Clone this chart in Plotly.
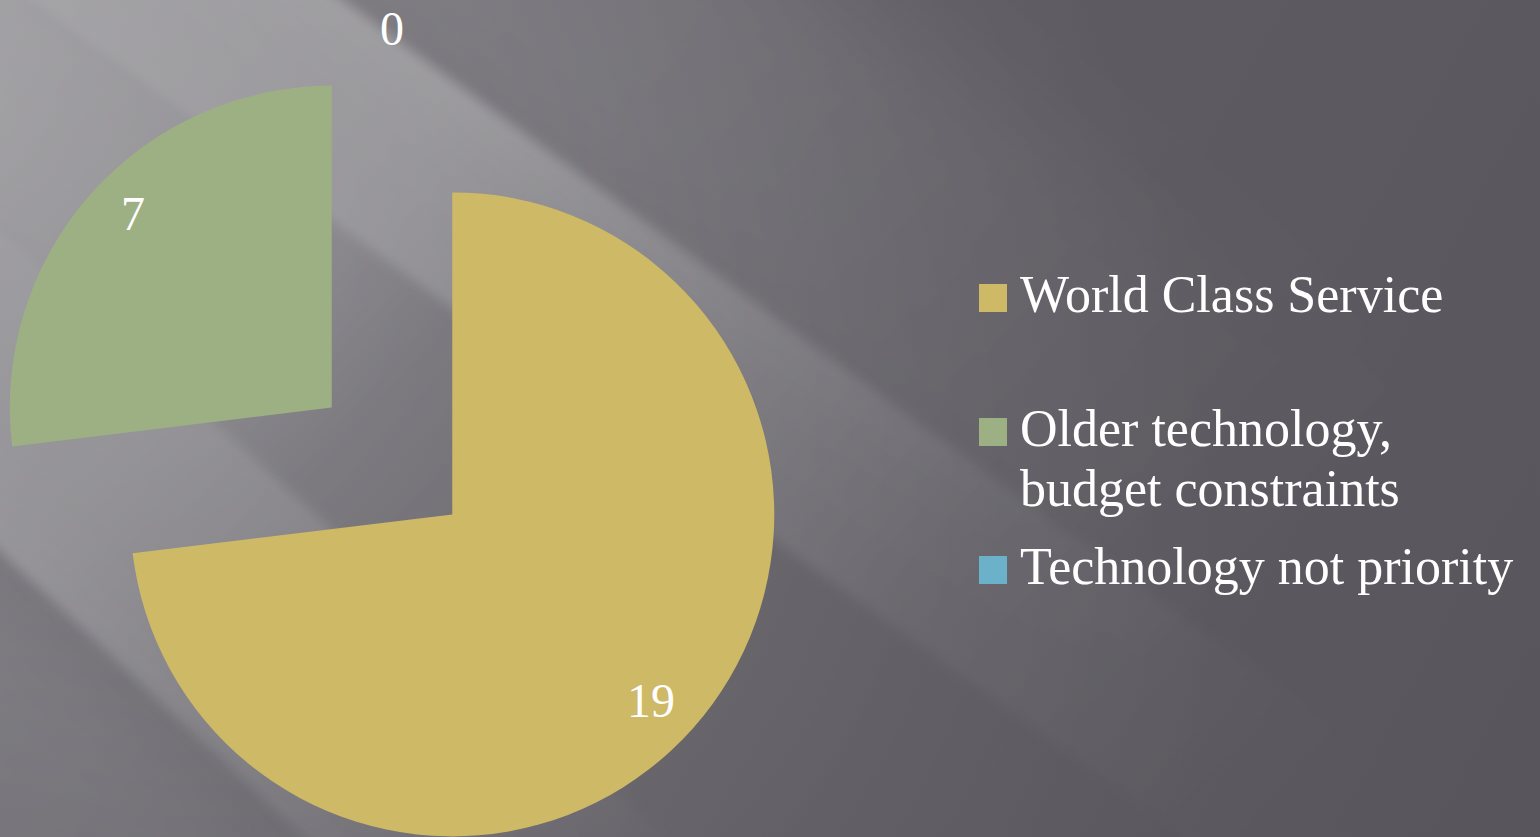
import base64
import math

import plotly.graph_objects as go

# ---- data -------------------------------------------------------------
categories = [
    "World Class Service",
    "Older technology, budget constraints",
    "Technology not priority",
]
values = [19, 7, 0]
colors = ["#CEB966", "#9CB084", "#6BB1C9"]

# ---- page geometry (pixels) -------------------------------------------
VIEW_W, VIEW_H = 1540, 837
SHIFT = 11                      # figure is drawn 11px wider and slid left
FIG_W, FIG_H = VIEW_W + SHIFT, 870

PIE_CX, PIE_CY, PIE_R, PULL = 392, 461, 322, 0.25
INSIDE_K, LABEL_TILT, OUTSIDE_K = 0.856, 2.2, 1.343
LABEL_DY = -4

FONT = "Liberation Serif, Times New Roman, serif"
LEGEND_SQ_X, LEGEND_SQ, LEGEND_TEXT_X = 979, 28, 1018
LEGEND_BASELINES = [312, 446, 584]
LEGEND_LINE_GAP = 60
LEGEND_FONT, LABEL_FONT = 52, 48


def px(x):
    return (x + SHIFT) / FIG_W


def py(y):
    return 1 - y / FIG_H


def fade(name, x2, stops):
    """Horizontal white gradient whose opacity follows the given stops."""
    s = "".join(
        f'<stop offset="{o}" stop-color="#ffffff" stop-opacity="{a}"/>'
        for o, a in stops)
    return (f'<linearGradient id="{name}" gradientUnits="userSpaceOnUse" '
            f'x1="0" y1="0" x2="{x2}" y2="0">{s}</linearGradient>')


# ---- background: dark slate with soft light rays from the top-left ----
def background_svg():
    return f'''<svg xmlns="http://www.w3.org/2000/svg" width="{FIG_W}" height="{FIG_H}" viewBox="{-SHIFT} 0 {FIG_W} {FIG_H}">
<defs>
<linearGradient id="base" gradientUnits="userSpaceOnUse" x1="0" y1="0" x2="1540" y2="837">
<stop offset="0" stop-color="#636167"/><stop offset="0.6" stop-color="#5d5b61"/><stop offset="1" stop-color="#58565c"/>
</linearGradient>
<radialGradient id="glow" cx="0.5" cy="0.5" r="0.5">
<stop offset="0" stop-color="#ffffff" stop-opacity="0.20"/>
<stop offset="0.5" stop-color="#ffffff" stop-opacity="0.10"/>
<stop offset="0.8" stop-color="#ffffff" stop-opacity="0.03"/>
<stop offset="1" stop-color="#ffffff" stop-opacity="0"/>
</radialGradient>
{fade("rayA", 1500, [(0, 0.30), (0.27, 0.26), (0.53, 0.13), (0.73, 0.05), (1, 0)])}
{fade("rayB", 1100, [(0, 0.28), (0.36, 0.22), (0.73, 0.08), (1, 0)])}
{fade("mid", 1000, [(0, 0.27), (0.3, 0.21), (0.55, 0.06), (0.8, 0)])}
{fade("halo", 1300, [(0, 0.10), (0.4, 0.08), (1, 0)])}
{fade("under", 1200, [(0, 0.12), (0.5, 0.08), (1, 0)])}
<filter id="soft" filterUnits="userSpaceOnUse" x="-900" y="-1200" width="3200" height="2600"><feGaussianBlur stdDeviation="6"/></filter>
<filter id="wide" filterUnits="userSpaceOnUse" x="-900" y="-1200" width="3200" height="2600"><feGaussianBlur stdDeviation="50"/></filter>
</defs>
<rect x="{-SHIFT}" y="0" width="{FIG_W}" height="{FIG_H}" fill="url(#base)"/>
<g transform="rotate(42)">
<ellipse cx="0" cy="100" rx="1500" ry="1000" fill="url(#glow)"/>
<polygon points="-400,-450 1700,-700 1700,-300 -400,-180" fill="url(#halo)" filter="url(#wide)"/>
<polygon points="-400,420 1400,440 1400,900 -400,900" fill="url(#under)" filter="url(#wide)"/>
<polygon points="-400,30 1700,-200 1400,180 -400,160" fill="url(#mid)" filter="url(#soft)"/>
<polygon points="-400,-164 1700,-374 1700,-200 -400,30" fill="url(#rayA)" filter="url(#soft)"/>
<polygon points="-400,160 1400,180 1400,430 -400,395" fill="url(#rayB)" filter="url(#soft)"/>
</g>
</svg>'''


bg_uri = "data:image/svg+xml;base64," + base64.b64encode(
    background_svg().encode("utf-8")).decode("ascii")

# ---- exploded pie ------------------------------------------------------
half = PIE_R * (1 + PULL)
pulls = [PULL if v > 0 else 0 for v in values]

pie = go.Pie(
    labels=categories,
    values=values,
    marker=dict(colors=colors, line=dict(width=0)),
    sort=False,
    direction="clockwise",
    rotation=0,
    pull=pulls,
    textinfo="none",
    hoverinfo="label+value",
    showlegend=False,
    domain=dict(
        x=[px(PIE_CX - half), px(PIE_CX + half)],
        y=[py(PIE_CY + half), py(PIE_CY - half)],
    ),
)

annotations = []
shapes = []

# value labels, positioned from each slice's angle
total = sum(values)
cum = 0
for v, pl in zip(values, pulls):
    mid = (cum + v / 2) / total * 360
    cum += v
    if v > 0:
        vx = PIE_CX + pl * PIE_R * math.sin(math.radians(mid))
        vy = PIE_CY - pl * PIE_R * math.cos(math.radians(mid))
        th = math.radians(mid + LABEL_TILT)
        lx = vx + INSIDE_K * PIE_R * math.sin(th)
        ly = vy - INSIDE_K * PIE_R * math.cos(th) + LABEL_DY
    else:
        lx = PIE_CX + OUTSIDE_K * PIE_R * math.sin(math.radians(mid))
        ly = PIE_CY - OUTSIDE_K * PIE_R * math.cos(math.radians(mid))
    annotations.append(dict(
        text=str(v), x=px(lx), y=py(ly), xref="paper", yref="paper",
        xanchor="center", yanchor="middle", showarrow=False,
        font=dict(family=FONT, size=LABEL_FONT, color="#FFFFFF"),
    ))

# legend: colour squares with wrapped category names
for name, col, base in zip(categories, colors, LEGEND_BASELINES):
    shapes.append(dict(
        type="rect", xref="paper", yref="paper",
        x0=px(LEGEND_SQ_X), x1=px(LEGEND_SQ_X + LEGEND_SQ),
        y0=py(base), y1=py(base - LEGEND_SQ),
        fillcolor=col, line=dict(width=0), layer="above",
    ))
    lines = name.replace(", ", ",\n").split("\n")
    for i, line in enumerate(lines):
        annotations.append(dict(
            text=line, x=px(LEGEND_TEXT_X), xref="paper", yref="paper",
            y=py(base + i * LEGEND_LINE_GAP - 0.335 * LEGEND_FONT),
            xanchor="left", yanchor="middle", showarrow=False,
            font=dict(family=FONT, size=LEGEND_FONT, color="#FFFFFF"),
        ))

fig = go.Figure(pie)
fig.update_layout(
    width=FIG_W,
    height=FIG_H,
    margin=dict(l=0, r=0, t=0, b=0),
    paper_bgcolor="#5e5c62",
    plot_bgcolor="#5e5c62",
    showlegend=False,
    annotations=annotations,
    shapes=shapes,
    images=[dict(
        source=bg_uri, xref="paper", yref="paper", x=0, y=1,
        sizex=1, sizey=1, xanchor="left", yanchor="top",
        sizing="stretch", layer="below",
    )],
)

# clip the page to the visible window and slide the figure into place
post = (
    "var gd = document.getElementById('{plot_id}');"
    "var wrap = gd.parentElement;"
    "document.documentElement.style.overflow = 'hidden';"
    "document.body.style.margin = '0';"
    "document.body.style.overflow = 'hidden';"
    "wrap.style.width = '1540px';"
    "wrap.style.height = '837px';"
    "wrap.style.overflow = 'hidden';"
    "gd.style.marginLeft = '-11px';"
)

fig.write_html("out.html", post_script=post)
